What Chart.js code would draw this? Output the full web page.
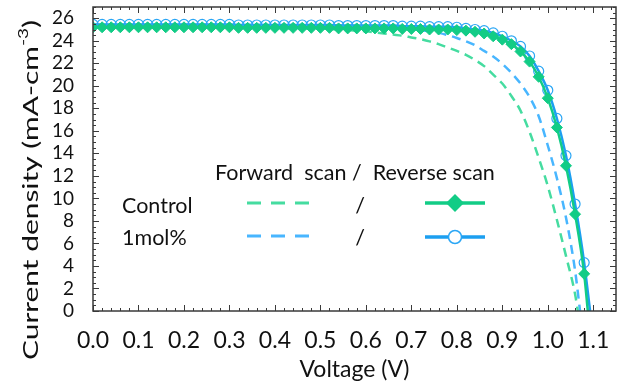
<!DOCTYPE html>
<html>
<head>
<meta charset="utf-8">
<script src="https://cdn.jsdelivr.net/npm/chart.js@4.4.1/dist/chart.umd.min.js"></script>
<style>
  html, body { margin: 0; padding: 0; background: #fff; }
  #caixa { width: 628px; height: 383px; position: relative; }
</style>
</head>
<body>
<div id="caixa"><canvas id="grafico"></canvas></div>
<script>
// tensão (V), passo 0.02
const tensao = [
  0.00, 0.02, 0.04, 0.06, 0.08, 0.10, 0.12, 0.14, 0.16, 0.18,
  0.20, 0.22, 0.24, 0.26, 0.28, 0.30, 0.32, 0.34, 0.36, 0.38,
  0.40, 0.42, 0.44, 0.46, 0.48, 0.50, 0.52, 0.54, 0.56, 0.58,
  0.60, 0.62, 0.64, 0.66, 0.68, 0.70, 0.72, 0.74, 0.76, 0.78,
  0.80, 0.82, 0.84, 0.86, 0.88, 0.90, 0.92, 0.94, 0.96, 0.98,
  1.00, 1.02, 1.04, 1.06, 1.08
];

// Control, reverse scan (mA-cm-2)
const controleReverso = [
  25.2, 25.2, 25.2, 25.2, 25.2, 25.2, 25.2, 25.2, 25.2, 25.2,
  25.2, 25.2, 25.2, 25.2, 25.2, 25.2, 25.15, 25.15, 25.15, 25.15,
  25.15, 25.15, 25.15, 25.15, 25.15, 25.15, 25.15, 25.1, 25.1, 25.1,
  25.1, 25.1, 25.1, 25.1, 25.05, 25.05, 25.05, 25.0, 25.0, 25.0,
  24.95, 24.9, 24.8, 24.65, 24.4, 24.1, 23.7, 23.05, 22.15, 20.8,
  18.9, 16.3, 12.9, 8.6, 3.3
];
const vocControleReverso = 1.088;

// 1mol%, reverse scan
const molReverso = [
  25.45, 25.45, 25.45, 25.45, 25.45, 25.45, 25.45, 25.45, 25.45, 25.45,
  25.45, 25.45, 25.45, 25.45, 25.45, 25.45, 25.4, 25.4, 25.4, 25.4,
  25.4, 25.4, 25.4, 25.4, 25.4, 25.4, 25.4, 25.35, 25.35, 25.35,
  25.35, 25.35, 25.35, 25.35, 25.3, 25.3, 25.3, 25.25, 25.25, 25.25,
  25.2, 25.1, 25.0, 24.9, 24.7, 24.4, 24.0, 23.5, 22.65, 21.3,
  19.6, 17.1, 13.8, 9.5, 4.3
];
const vocMolReverso = 1.093;

// Control, forward scan (0 a 1.06 V)
const controleDireto = [
  25.2, 25.2, 25.2, 25.2, 25.2, 25.2, 25.2, 25.2, 25.2, 25.2,
  25.2, 25.15, 25.15, 25.15, 25.15, 25.15, 25.15, 25.15, 25.15, 25.15,
  25.15, 25.1, 25.1, 25.1, 25.1, 25.1, 25.05, 25.0, 24.95, 24.9,
  24.85, 24.75, 24.65, 24.55, 24.45, 24.3, 24.15, 23.95, 23.7, 23.4,
  23.1, 22.75, 22.3, 21.75, 21.0, 20.2, 19.1, 17.8, 15.9, 13.6,
  11.1, 8.1, 4.9, 1.5
];
const vocControleDireto = 1.066;

// 1mol%, forward scan (0 a 1.06 V)
const molDireto = [
  25.4, 25.4, 25.4, 25.4, 25.4, 25.4, 25.4, 25.4, 25.4, 25.4,
  25.4, 25.4, 25.4, 25.4, 25.4, 25.4, 25.4, 25.4, 25.4, 25.4,
  25.4, 25.35, 25.35, 25.35, 25.35, 25.35, 25.35, 25.35, 25.35, 25.3,
  25.3, 25.3, 25.3, 25.2, 25.15, 25.05, 24.95, 24.85, 24.7, 24.5,
  24.25, 23.95, 23.6, 23.1, 22.6, 21.95, 21.15, 20.2, 19.0, 17.3,
  14.7, 11.8, 8.3, 3.6
];
const vocMolDireto = 1.071;

const ticksY = [0, 2, 4, 6, 8, 10, 12, 14, 16, 18, 20, 22, 24, 26];
const ticksX = [0.0, 0.1, 0.2, 0.3, 0.4, 0.5, 0.6, 0.7, 0.8, 0.9, 1.0, 1.1];

const VERDE = '#12cc86';
const VERDE_TRACO = '#45dca0';
const AZUL = '#1c9ff0';
const AZUL_TRACO = '#48b6ff';
const FONTE = 'Lato, "Open Sans", sans-serif';
const COR_TEXTO = '#111';

function pontos(valores, voc) {
  const lista = valores.map((j, i) => ({ x: tensao[i], y: j }));
  lista.push({ x: voc, y: 0 });
  return lista;
}

function raios(valores, r) {
  return valores.map(() => r).concat([0]);
}

// moldura com ticks para dentro nos quatro lados
const molduraPlugin = {
  id: 'moldura',
  afterDatasetsDraw(chart) {
    const { ctx, chartArea: a, scales: { x, y } } = chart;
    ctx.save();
    ctx.strokeStyle = '#3a3a3a';
    ctx.lineWidth = 1;
    ctx.beginPath();
    for (let i = 0; i * 0.02 <= x.max + 1e-9; i++) {
      const px = Math.round(x.getPixelForValue(i * 0.02)) + 0.5;
      const len = i % 5 === 0 ? 6 : 3;
      ctx.moveTo(px, a.bottom); ctx.lineTo(px, a.bottom - len);
      ctx.moveTo(px, a.top); ctx.lineTo(px, a.top + len);
    }
    for (let i = 0; i * 0.5 <= y.max + 1e-9; i++) {
      const py = Math.round(y.getPixelForValue(i * 0.5)) + 0.5;
      const len = i % 4 === 0 ? 6 : 3;
      ctx.moveTo(a.left, py); ctx.lineTo(a.left + len, py);
      ctx.moveTo(a.right, py); ctx.lineTo(a.right - len, py);
    }
    ctx.stroke();
    ctx.lineWidth = 1.5;
    ctx.strokeRect(a.left, a.top, a.right - a.left, a.bottom - a.top);
    ctx.restore();
  }
};

// título do eixo y com sobrescrito
const tituloYPlugin = {
  id: 'tituloY',
  afterDraw(chart) {
    const { ctx } = chart;
    const fonte = '22px ' + FONTE;
    const fontePequena = '14px ' + FONTE;
    const partes = ['Current density (mA-cm', '-3', ')'];
    ctx.save();
    ctx.font = fonte;
    const w1 = ctx.measureText(partes[0]).width;
    const w3 = ctx.measureText(partes[2]).width;
    ctx.font = fontePequena;
    const w2 = ctx.measureText(partes[1]).width;
    const total = w1 + w2 + w3;
    const alvo = 340;
    ctx.translate(31, 190);
    ctx.rotate(-Math.PI / 2);
    ctx.scale(alvo / total, 1);
    ctx.fillStyle = COR_TEXTO;
    ctx.textBaseline = 'middle';
    ctx.textAlign = 'left';
    let xi = -total / 2;
    ctx.font = fonte;
    ctx.fillText(partes[0], xi, 0);
    xi += w1;
    ctx.font = fontePequena;
    ctx.fillText(partes[1], xi, -8);
    xi += w2;
    ctx.font = fonte;
    ctx.fillText(partes[2], xi, 0);
    ctx.restore();
  }
};

// legenda desenhada no meio do gráfico
const legendaPlugin = {
  id: 'legenda',
  afterDraw(chart) {
    const { ctx } = chart;
    ctx.save();
    ctx.fillStyle = COR_TEXTO;
    ctx.font = '21.5px ' + FONTE;
    ctx.textBaseline = 'alphabetic';
    ctx.textAlign = 'left';
    ctx.fillText('Forward  scan /  Reverse scan', 215, 180);
    ctx.fillText('Control', 122, 213);
    ctx.fillText('1mol%', 122, 245);
    ctx.textAlign = 'center';
    ctx.fillText('/', 360, 213);
    ctx.fillText('/', 360, 245);

    // amostras tracejadas
    ctx.lineWidth = 3;
    ctx.setLineDash([14, 10]);
    ctx.strokeStyle = VERDE_TRACO;
    ctx.beginPath(); ctx.moveTo(247, 203); ctx.lineTo(310, 203); ctx.stroke();
    ctx.strokeStyle = AZUL_TRACO;
    ctx.beginPath(); ctx.moveTo(247, 236); ctx.lineTo(310, 236); ctx.stroke();
    ctx.setLineDash([]);

    // amostras sólidas com marcador
    ctx.lineWidth = 3.5;
    ctx.strokeStyle = VERDE;
    ctx.beginPath(); ctx.moveTo(425, 203); ctx.lineTo(485, 203); ctx.stroke();
    ctx.fillStyle = VERDE;
    ctx.beginPath();
    ctx.moveTo(455, 194); ctx.lineTo(464, 203); ctx.lineTo(455, 212); ctx.lineTo(446, 203);
    ctx.closePath(); ctx.fill();

    ctx.strokeStyle = AZUL;
    ctx.beginPath(); ctx.moveTo(425, 237); ctx.lineTo(485, 237); ctx.stroke();
    ctx.fillStyle = '#fff';
    ctx.lineWidth = 1.5;
    ctx.strokeStyle = '#2aa6f5';
    ctx.beginPath(); ctx.arc(455, 237, 6.5, 0, Math.PI * 2); ctx.fill(); ctx.stroke();
    ctx.restore();
  }
};

const ctx = document.getElementById('grafico').getContext('2d');
new Chart(ctx, {
  type: 'scatter',
  data: {
    datasets: [
      {
        label: 'Control reverse',
        data: pontos(controleReverso, vocControleReverso),
        showLine: true,
        borderColor: VERDE,
        backgroundColor: VERDE,
        borderWidth: 2.5,
        pointStyle: 'rectRot',
        pointRadius: raios(controleReverso, 5.5),
        pointBorderWidth: 1,
        cubicInterpolationMode: 'monotone',
      },
      {
        label: '1mol% reverse',
        data: pontos(molReverso, vocMolReverso),
        showLine: true,
        borderColor: AZUL,
        backgroundColor: 'rgba(255,255,255,0)',
        pointBorderColor: '#2aa6f5',
        borderWidth: 2.5,
        pointStyle: 'circle',
        pointRadius: raios(molReverso, 5),
        pointBorderWidth: 1.2,
        cubicInterpolationMode: 'monotone',
      },
      {
        label: 'Control forward',
        data: pontos(controleDireto, vocControleDireto),
        showLine: true,
        borderColor: VERDE_TRACO,
        borderWidth: 2.5,
        borderDash: [9, 6],
        pointRadius: 0,
        cubicInterpolationMode: 'monotone',
      },
      {
        label: '1mol% forward',
        data: pontos(molDireto, vocMolDireto),
        showLine: true,
        borderColor: AZUL_TRACO,
        borderWidth: 2.5,
        borderDash: [9, 6],
        pointRadius: 0,
        cubicInterpolationMode: 'monotone',
      },
    ],
  },
  options: {
    responsive: true,
    maintainAspectRatio: false,
    animation: false,
    devicePixelRatio: 1,
    layout: { padding: { top: 7, right: 12, bottom: 0, left: 0 } },
    plugins: {
      legend: { display: false },
      tooltip: { enabled: false },
    },
    scales: {
      x: {
        type: 'linear',
        min: 0,
        max: 1.15,
        grid: { display: false },
        border: { display: false },
        afterBuildTicks: (s) => { s.ticks = ticksX.map(v => ({ value: v })); },
        afterFit: (s) => { s.height = 72; s.paddingLeft = 0; s.paddingRight = 0; },
        ticks: {
          font: { family: FONTE, size: 23 },
          color: COR_TEXTO,
          padding: 8,
          maxRotation: 0,
          autoSkip: false,
          callback: (v) => Number(v).toFixed(1),
        },
        title: {
          display: true,
          text: 'Voltage (V)',
          font: { family: FONTE, size: 23 },
          color: COR_TEXTO,
          padding: { top: 0, bottom: 0 },
        },
      },
      y: {
        type: 'linear',
        min: 0,
        max: 27,
        grid: { display: false },
        border: { display: false },
        afterBuildTicks: (s) => { s.ticks = ticksY.map(v => ({ value: v })); },
        afterFit: (s) => { s.width = 93; s.paddingTop = 0; s.paddingBottom = 0; },
        ticks: {
          font: { family: FONTE, size: 19 },
          color: COR_TEXTO,
          padding: 11,
          autoSkip: false,
        },
      },
    },
  },
  plugins: [molduraPlugin, tituloYPlugin, legendaPlugin],
});
</script>
</body>
</html>
